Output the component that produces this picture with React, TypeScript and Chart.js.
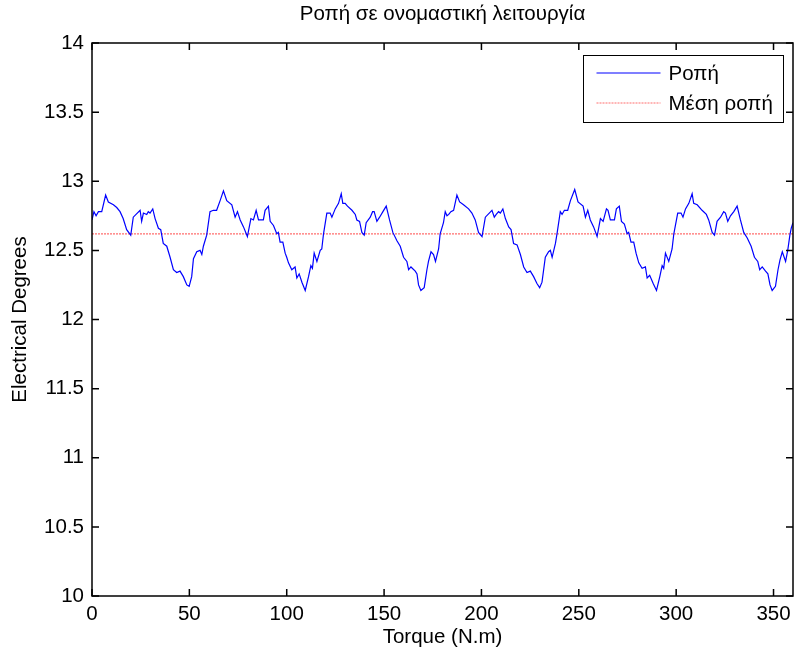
import React, { useEffect, useRef } from "react";
import { Chart, registerables } from "chart.js";

Chart.register(...registerables);

const TITLE = "Ροπή σε ονομαστική λειτουργία";
const X_LABEL = "Torque (N.m)";
const Y_LABEL = "Electrical Degrees";
const SERIES_LABELS = ["Ροπή", "Μέση ροπή"];

const xTickValues = [0, 50, 100, 150, 200, 250, 300, 350];
const yTickValues = [10, 10.5, 11, 11.5, 12, 12.5, 13, 13.5, 14];
const X_MIN = 0;
const X_MAX = 360;
const Y_MIN = 10;
const Y_MAX = 14;

const MEAN_TORQUE = 12.62;

const angle = [
  0, 1, 2.1, 3.3, 5, 7, 8.4, 11, 12.7, 14.4, 16, 17.8, 19.9, 21.2, 24.7, 25.5, 26.4, 28.1, 28.9, 29.8,
  31.2, 32.4, 34.1, 35.3, 36.6, 38.4, 40.1, 41.8, 43.5, 45.2, 46.9, 48.7, 49.9, 51.2, 52.1, 53.8, 55.5, 56.4, 57.2, 58.9,
  60.6, 62.3, 64, 65.8, 67.5, 69.2, 71.8, 73.5, 74.7, 76.1, 77.8, 79.8, 81.6, 82.9, 84.3, 85.5, 88, 88.9, 90.6, 91.5,
  93.2, 94.9, 95.7, 96.6, 98, 99.2, 100, 100.9, 102.6, 104.3, 105.2, 106.4, 107.8, 109.5, 111.2, 112.4, 113.2, 114.1, 115.5, 117.2,
  118, 118.9, 120.6, 122.3, 123.2, 124.9, 126.6, 128, 128.8, 130, 131.2, 133.5, 135.2, 136, 137.4, 138.6, 139.8, 140.8, 142.9, 144.1,
  144.9, 146.3, 147.7, 149.4, 151.1, 152.8, 154.5, 156.6, 158.3, 160, 161.7, 162.6, 163.8, 166, 166.9, 167.7, 168.9, 170.6, 172, 172.8,
  174.1, 175.4, 176.4, 178, 178.8, 180.5, 181.4, 182.3, 183.2, 184.3, 185.7, 187.4, 188.8, 190.8, 193.4, 195.1, 196.8, 198.5, 200.3, 202,
  205.4, 206.6, 207.6, 208.8, 209.7, 211, 212.3, 214, 215.2, 216.5, 218.3, 220, 221.7, 223.4, 225.1, 226.8, 228.5, 229.9, 231.1, 232.8,
  234.5, 235.4, 236.3, 238, 238.8, 240.5, 241.4, 242.6, 244.3, 245.7, 247.9, 249.6, 252.2, 253.4, 254.6, 255.9, 257.6, 259.4, 261.1, 262.5,
  264.2, 265, 266.2, 268.3, 269.3, 270.8, 271.9, 273.4, 274.8, 275.6, 276.8, 278.2, 279.4, 280.8, 282.5, 284.2, 285.1, 286.4, 288.2, 289.9,
  291.6, 292.8, 293.6, 294.5, 296.2, 297.9, 298.8, 300.8, 302.5, 303.5, 304.8, 306.5, 308.2, 309, 310.8, 313.3, 315.5, 316.7, 318.5, 319.7,
  321, 322.8, 324.4, 325.3, 326.5, 327.9, 329.6, 331.3, 333, 334.7, 336.5, 338.5, 340.2, 341.9, 342.9, 344.2, 345.9, 347.1, 348.2, 349.3,
  351, 352.3, 353.3, 354.5, 356.2, 357.3, 358.4, 359.1, 360,
];

const torque = [
  12.72, 12.78, 12.75, 12.78, 12.78, 12.9, 12.85, 12.83, 12.81, 12.78, 12.73, 12.65, 12.61, 12.74, 12.79, 12.71, 12.77, 12.76, 12.78, 12.77,
  12.8, 12.73, 12.66, 12.65, 12.55, 12.53, 12.45, 12.36, 12.34, 12.35, 12.31, 12.25, 12.24, 12.31, 12.44, 12.49, 12.5, 12.47, 12.53, 12.61,
  12.78, 12.79, 12.79, 12.86, 12.93, 12.86, 12.83, 12.74, 12.78, 12.72, 12.67, 12.6, 12.73, 12.72, 12.79, 12.72, 12.72, 12.79, 12.82, 12.71,
  12.68, 12.62, 12.63, 12.56, 12.56, 12.48, 12.45, 12.41, 12.36, 12.38, 12.3, 12.33, 12.27, 12.21, 12.31, 12.39, 12.37, 12.48, 12.42, 12.5,
  12.51, 12.62, 12.77, 12.77, 12.74, 12.8, 12.84, 12.91, 12.84, 12.84, 12.82, 12.79, 12.76, 12.72, 12.71, 12.63, 12.61, 12.7, 12.74, 12.78,
  12.78, 12.71, 12.74, 12.78, 12.82, 12.72, 12.63, 12.57, 12.53, 12.45, 12.42, 12.36, 12.38, 12.35, 12.33, 12.25, 12.21, 12.23, 12.36, 12.42,
  12.49, 12.47, 12.42, 12.51, 12.62, 12.7, 12.78, 12.75, 12.76, 12.78, 12.79, 12.9, 12.85, 12.83, 12.8, 12.77, 12.72, 12.63, 12.6, 12.74,
  12.79, 12.74, 12.76, 12.78, 12.77, 12.8, 12.73, 12.67, 12.65, 12.55, 12.54, 12.47, 12.38, 12.34, 12.35, 12.31, 12.26, 12.23, 12.27, 12.45,
  12.49, 12.5, 12.45, 12.55, 12.62, 12.78, 12.76, 12.79, 12.79, 12.86, 12.94, 12.85, 12.82, 12.74, 12.79, 12.72, 12.67, 12.6, 12.73, 12.71,
  12.8, 12.79, 12.72, 12.72, 12.8, 12.82, 12.71, 12.69, 12.62, 12.63, 12.56, 12.56, 12.48, 12.41, 12.37, 12.38, 12.3, 12.32, 12.26, 12.21,
  12.31, 12.39, 12.37, 12.48, 12.42, 12.51, 12.62, 12.77, 12.77, 12.74, 12.8, 12.84, 12.91, 12.84, 12.83, 12.79, 12.76, 12.72, 12.63, 12.61,
  12.71, 12.74, 12.78, 12.77, 12.71, 12.75, 12.78, 12.82, 12.72, 12.63, 12.59, 12.53, 12.45, 12.42, 12.36, 12.38, 12.35, 12.33, 12.25, 12.21,
  12.24, 12.36, 12.43, 12.49, 12.42, 12.5, 12.61, 12.66, 12.7,
];

const FONT_FAMILY = "'Liberation Sans', Arial, Helvetica, sans-serif";
const FONT_SIZE = 20.5;
const TICK_LEN = 7;

const matlabAxesPlugin = {
  id: "matlabAxes",
  afterDatasetsDraw(chart: any) {
    const { ctx, chartArea, scales } = chart;
    const { left, right, top, bottom } = chartArea;
    ctx.save();
    ctx.strokeStyle = "#000";
    ctx.lineWidth = 1.5;
    ctx.beginPath();
    for (const v of xTickValues) {
      const px = scales.x.getPixelForValue(v);
      ctx.moveTo(px, bottom);
      ctx.lineTo(px, bottom - TICK_LEN);
      ctx.moveTo(px, top);
      ctx.lineTo(px, top + TICK_LEN);
    }
    for (const v of yTickValues) {
      const py = scales.y.getPixelForValue(v);
      ctx.moveTo(left, py);
      ctx.lineTo(left + TICK_LEN, py);
      ctx.moveTo(right, py);
      ctx.lineTo(right - TICK_LEN, py);
    }
    ctx.stroke();
    ctx.lineWidth = 1.5;
    ctx.strokeRect(left, top, right - left, bottom - top);
    ctx.restore();
  },
  afterDraw(chart: any) {
    const { ctx, chartArea } = chart;
    ctx.save();
    // title centred over the plot area
    ctx.fillStyle = "#000";
    ctx.font = `${FONT_SIZE}px ${FONT_FAMILY}`;
    ctx.textAlign = "center";
    ctx.textBaseline = "middle";
    ctx.fillText(TITLE, (chartArea.left + chartArea.right) / 2, 14);

    // legend
    const boxW = 200;
    const boxH = 67;
    const bx = chartArea.right - 209.5;
    const by = chartArea.top + 12.5;
    ctx.fillStyle = "#fff";
    ctx.fillRect(bx, by, boxW, boxH);
    ctx.strokeStyle = "#000";
    ctx.lineWidth = 1;
    ctx.strokeRect(bx, by, boxW, boxH);
    const rows = [by + 17.5, by + 47.5];
    chart.data.datasets.forEach((ds: any, i: number) => {
      const y = rows[i];
      ctx.beginPath();
      ctx.strokeStyle = ds.borderColor;
      ctx.lineWidth = ds.borderWidth;
      ctx.setLineDash(ds.borderDash || []);
      ctx.moveTo(bx + 13, y);
      ctx.lineTo(bx + 77, y);
      ctx.stroke();
      ctx.setLineDash([]);
      ctx.fillStyle = "#000";
      ctx.font = `${FONT_SIZE}px ${FONT_FAMILY}`;
      ctx.textBaseline = "middle";
      ctx.textAlign = "left";
      ctx.fillText(ds.label, bx + 85, y + 1);
    });
    ctx.restore();
  },
};

export default function App() {
  const canvasRef = useRef<HTMLCanvasElement | null>(null);

  useEffect(() => {
    document.body.style.margin = "0";
    const canvas = canvasRef.current;
    if (!canvas) return;
    Chart.defaults.font.family = FONT_FAMILY;
    Chart.defaults.color = "#000";

    const torquePoints = angle.map((a, i) => ({ x: a, y: torque[i] }));
    const meanPoints = [
      { x: X_MIN, y: MEAN_TORQUE },
      { x: X_MAX, y: MEAN_TORQUE },
    ];

    const chart = new Chart(canvas, {
      type: "line",
      data: {
        datasets: [
          {
            label: SERIES_LABELS[0],
            data: torquePoints,
            borderColor: "#0000ff",
            borderWidth: 1.2,
            pointRadius: 0,
            tension: 0,
            fill: false,
          },
          {
            label: SERIES_LABELS[1],
            data: meanPoints,
            borderColor: "rgb(255,110,110)",
            borderWidth: 1.2,
            borderDash: [2, 1],
            pointRadius: 0,
            tension: 0,
            fill: false,
          },
        ],
      },
      options: {
        animation: false,
        responsive: false,
        maintainAspectRatio: false,
        layout: { padding: { left: 0, right: 1, top: 43, bottom: 0 } },
        plugins: {
          legend: { display: false },
          tooltip: { enabled: false },
          title: { display: false },
        },
        scales: {
          x: {
            type: "linear",
            min: X_MIN,
            max: X_MAX,
            grid: { display: false, drawTicks: false },
            border: { display: false },
            afterBuildTicks: (scale: any) => {
              scale.ticks = xTickValues.map((v) => ({ value: v }));
            },
            afterFit: (scale: any) => {
              scale.height = 58;
              scale.paddingLeft = 0;
              scale.paddingRight = 0;
            },
            ticks: {
              padding: 6,
              maxRotation: 0,
              autoSkip: false,
              color: "#000",
              font: { size: FONT_SIZE },
              callback: (v: any) => String(v),
            },
            title: {
              display: true,
              text: X_LABEL,
              color: "#000",
              font: { size: FONT_SIZE },
              padding: { top: 0, bottom: 4 },
            },
          },
          y: {
            type: "linear",
            min: Y_MIN,
            max: Y_MAX,
            grid: { display: false, drawTicks: false },
            border: { display: false },
            afterBuildTicks: (scale: any) => {
              scale.ticks = yTickValues.map((v) => ({ value: v }));
            },
            afterFit: (scale: any) => {
              scale.width = 92;
              scale.paddingTop = 0;
              scale.paddingBottom = 0;
            },
            ticks: {
              padding: 8,
              autoSkip: false,
              color: "#000",
              font: { size: FONT_SIZE },
              callback: (v: any) => String(v),
            },
            title: {
              display: true,
              text: Y_LABEL,
              color: "#000",
              font: { size: FONT_SIZE },
              padding: { top: 8, bottom: 0 },
            },
          },
        },
      },
      plugins: [matlabAxesPlugin],
    });

    return () => {
      chart.destroy();
    };
  }, []);

  return (
    <div style={{ width: 794, height: 654, background: "#fff" }}>
      <canvas ref={canvasRef} width={794} height={654} style={{ display: "block" }} />
    </div>
  );
}
